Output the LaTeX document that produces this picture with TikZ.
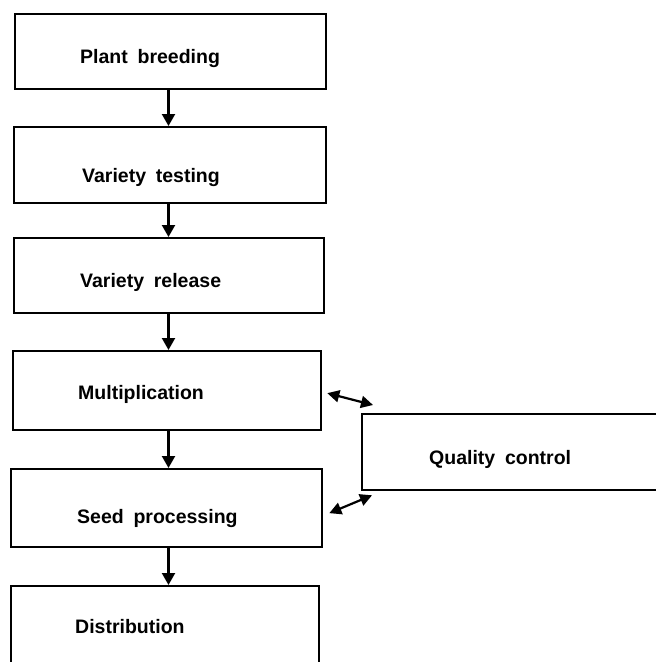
\documentclass[tikz,border=0pt]{standalone}
\usepackage{fontspec}
\setmainfont{Liberation Sans}[WordSpace=1.8]
\usetikzlibrary{arrows.meta}
\begin{document}
\begin{tikzpicture}[x=1pt,y=-1pt,
  box/.style={draw=black,line width=2.3pt,inner sep=0pt,anchor=north west},
  lbl/.style={anchor=base west,inner sep=0pt,font=\fontsize{19.5}{22}\selectfont\bfseries},
  arr/.style={line width=2.2pt,-{Triangle[length=12pt,width=13pt]}},
  darr/.style={line width=2.2pt,{Triangle[length=12pt,width=12pt]}-{Triangle[length=12pt,width=12pt]}}]
\useasboundingbox (0,0) rectangle (656,662);
\clip (0,0) rectangle (656,662);
\fill[white] (0,0) rectangle (656,662);
\node[box,minimum width=311pt,minimum height=75pt] (b1) at (14,13) {};
\node[box,minimum width=312pt,minimum height=76pt] (b2) at (13,126) {};
\node[box,minimum width=310pt,minimum height=75pt] (b3) at (13,237) {};
\node[box,minimum width=308pt,minimum height=79pt] (b4) at (12,350) {};
\node[box,minimum width=311pt,minimum height=78pt] (b5) at (10,468) {};
\node[box,minimum width=308pt,minimum height=95pt] (b6) at (10,585) {};
\node[box,minimum width=310pt,minimum height=76pt] (qc) at (361,413) {};
\node[lbl] (t1) at (80,63) {Plant breeding};
\node[lbl] (t2) at (82,182) {Variety testing};
\node[lbl] (t3) at (80,287) {Variety release};
\node[lbl] (t4) at (78,399) {Multiplication};
\node[lbl] (t5) at (77,523) {Seed processing};
\node[lbl] (t6) at (75,633) {Distribution};
\node[lbl] (t7) at (429,464) {Quality control};
\coordinate (ax) at (168.5,0);
\draw[arr] (b1.south -| ax) -- (b2.north -| ax);
\draw[arr] (b2.south -| ax) -- (b3.north -| ax);
\draw[arr] (b3.south -| ax) -- (b4.north -| ax);
\draw[arr] (b4.south -| ax) -- (b5.north -| ax);
\draw[arr] (b5.south -| ax) -- (b6.north -| ax);
\draw[darr] ([shift={(5,2.5)}]b4.east) -- ([shift={(12,-8)}]qc.north west);
\draw[darr] ([shift={(6,5)}]b5.east) -- ([shift={(11,4)}]qc.south west);
\end{tikzpicture}
\end{document}
